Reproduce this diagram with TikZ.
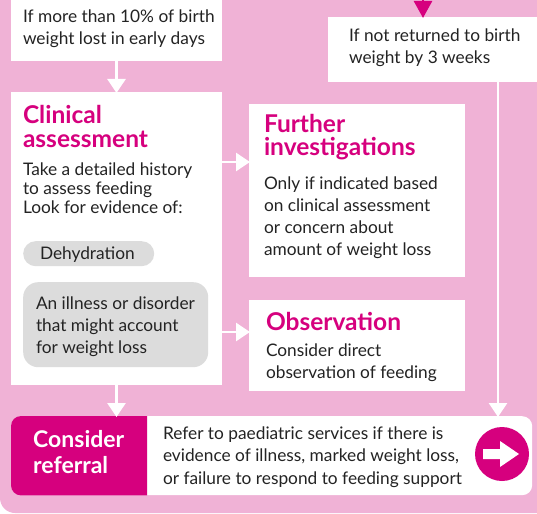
\documentclass[tikz,border=0pt]{standalone}
\usepackage{fontspec}
\setmainfont{Lato}
\usetikzlibrary{arrows.meta,calc}
\definecolor{bmjpink}{RGB}{240,178,214}
\definecolor{bmjmag}{RGB}{214,0,126}
\definecolor{pillgrey}{RGB}{220,220,220}
\definecolor{txtgrey}{RGB}{35,35,35}
\begin{document}
\begin{tikzpicture}[x=1pt,y=-1pt,
  whitebox/.style={fill=white, draw=none, inner sep=0pt, outer sep=0pt, anchor=north west},
  bodytxt/.style={anchor=base west, inner sep=0pt, outer sep=0pt, align=left, text=txtgrey,
    font=\fontsize{17.3}{22}\selectfont},
  tighttxt/.style={bodytxt, font=\fontsize{17.3}{18.5}\selectfont},
  titletxt/.style={anchor=base west, inner sep=0pt, outer sep=0pt, align=left, text=bmjmag,
    font=\fontsize{24.5}{23.5}\selectfont\bfseries},
  flow/.style={draw=white, line width=2.6pt, -{Triangle[width=18pt,length=14pt]}, shorten >=-1pt},
]
\useasboundingbox (0,0) rectangle (537,513);
% background
\fill[bmjpink, rounded corners=15pt] (0,-40) rectangle (580,513);

% boxes
\node[whitebox, minimum width=211pt, minimum height=71pt] (b1) at (11,-10) {};
\node[whitebox, minimum width=220pt, minimum height=65pt] (b2) at (328,17) {};
\node[whitebox, minimum width=211pt, minimum height=293pt] (clin) at (11,92) {};
\node[whitebox, minimum width=216pt, minimum height=173pt] (fur) at (249,104) {};
\node[whitebox, minimum width=216pt, minimum height=91pt] (obs) at (249,300) {};

% box texts
\node[bodytxt] (b1t) at (23,45) {If more than 10\% of birth\\weight lost in early days};
\node[bodytxt] (b2t) at (349,64) {If not returned to birth\\weight by 3 weeks};

\node[titletxt] (clint) at (23,147) {Clinical\\assessment};
\node[tighttxt] (clinb) at (23,194) {Take a detailed history\\to assess feeding};
\node[bodytxt] (clinl) at (23,213) {Look for evidence of:};
\node[fill=pillgrey, rounded corners=12.5pt, minimum width=131pt, minimum height=25pt,
  inner sep=0pt, anchor=north west] (dehy) at (23,241) {};
\node[bodytxt] (dehyt) at (40,259) {Dehydration};
\node[fill=pillgrey, rounded corners=15pt, minimum width=185pt, minimum height=85pt,
  inner sep=0pt, anchor=north west] (ill) at (23,282) {};
\node[bodytxt] (illt) at (36,353) {An illness or disorder\\that might account\\for weight loss};

\node[titletxt] (furt) at (264,156) {Further\\investigations};
\node[bodytxt] (furb) at (264,255) {Only if indicated based\\on clinical assessment\\or concern about\\amount of weight loss};

\node[titletxt] (obst) at (266,330) {Observation};
\node[bodytxt] (obsb) at (266,378) {Consider direct\\observation of feeding};

% bottom bar
\node[fill=white, rounded corners=10pt, minimum width=521pt, minimum height=79pt,
  inner sep=0pt, anchor=north west] (bar) at (11,416) {};
\begin{scope}
  \clip (11,410) rectangle (147,500);
  \fill[bmjmag, rounded corners=10pt] (bar.north west) rectangle (bar.south east);
\end{scope}
\node[anchor=base west, inner sep=0pt, align=left, text=white,
  font=\fontsize{23}{26}\selectfont\bfseries] (ref) at (33,473) {Consider\\referral};
\node[bodytxt, font=\fontsize{17.3}{22.5}\selectfont] (refb) at (163,484)
  {Refer to paediatric services if there is\\evidence of illness, marked weight loss,\\or failure to respond to feeding support};
\node[circle, fill=bmjmag, minimum size=54pt, inner sep=0pt] (go) at (502,454) {};
\fill[white] ($(go)+(-19,-5)$) -- ($(go)+(-2,-5)$) -- ($(go)+(-2,-13)$) -- ($(go)+(17,0)$)
  -- ($(go)+(-2,13)$) -- ($(go)+(-2,5)$) -- ($(go)+(-19,5)$) -- cycle;

% connectors
\coordinate (topin) at (423,-10);
\draw[draw=bmjmag, line width=2.6pt, -{Triangle[width=18pt,length=17pt]}, shorten >=-1pt]
  (topin) -- (topin |- b2.north);
\draw[flow] (b1.south) -- (clin.north);
\coordinate (r1) at (0,162);
\coordinate (r2) at (0,332);
\draw[flow] (clin.east |- r1) -- (fur.west |- r1);
\draw[flow] (clin.east |- r2) -- (obs.west |- r2);
\draw[flow] (clin.south) -- (clin.south |- bar.north);
\coordinate (rline) at (498,0);
\draw[flow] (rline |- b2.south) -- (rline |- bar.north);
\end{tikzpicture}
\end{document}
